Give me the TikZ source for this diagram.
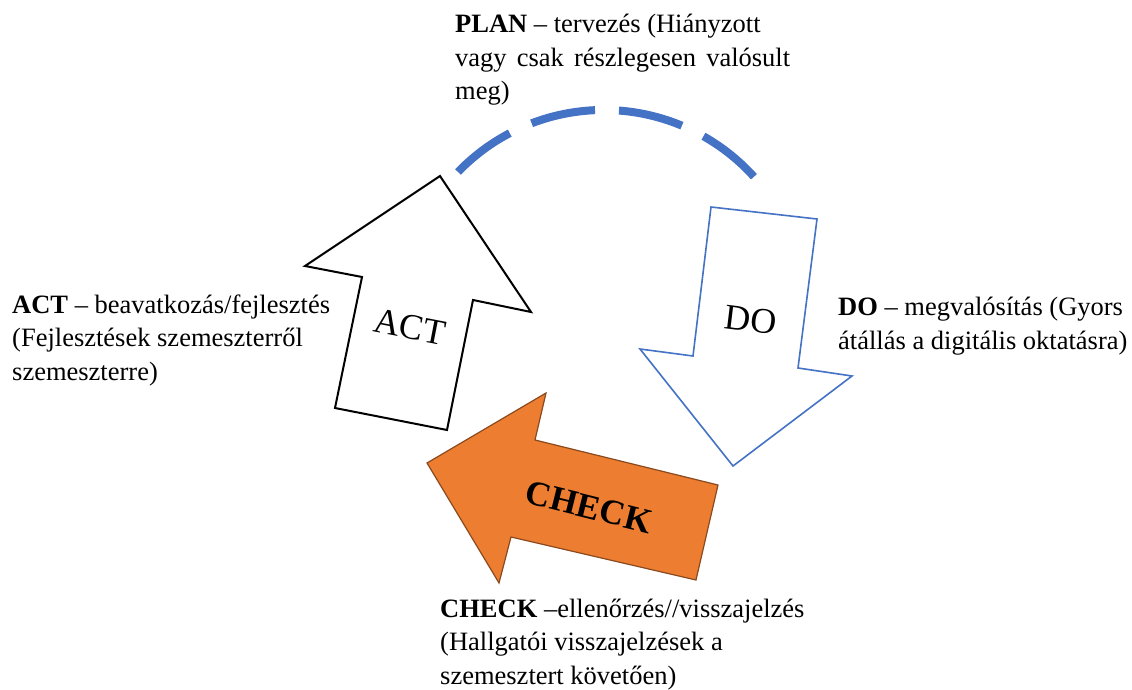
\documentclass[tikz,border=0pt]{standalone}
\usepackage{fontspec}
\setmainfont{Liberation Serif}
\definecolor{pdcablue}{HTML}{4472C4}
\definecolor{pdcaorange}{HTML}{ED7D31}
\definecolor{pdcabrown}{HTML}{8A4A1E}
\tikzset{
  lbl/.style={anchor=base west, inner sep=0pt, align=left,
    font=\fontsize{26.5}{33.5}\selectfont},
  inlbl/.style={inner sep=0pt, font=\fontsize{36}{40}\selectfont},
  actarrow/.style={draw=black, line width=2pt, fill=white, line join=miter},
  doarrow/.style={draw=pdcablue, line width=1.6pt, fill=white, line join=miter},
  checkarrow/.style={draw=pdcabrown, line width=1.2pt, fill=pdcaorange, line join=miter},
  planarc/.style={draw=pdcablue, line width=8pt, dash pattern=on 65pt off 24pt}
}
\begin{document}
\begin{tikzpicture}[x=1pt,y=-1pt]
\useasboundingbox (0,0) rectangle (1132,690);
% dashed PLAN arc
\coordinate (ps) at (458,172);
\draw[planarc] (ps) arc[start angle=-136.1, end angle=-41.6, radius=202.3] coordinate (pe);
% ACT arrow
\draw[actarrow] (440,176) -- (531,312) -- (473,300) -- (447,430) -- (335,408) -- (362,277) -- (305,266) -- cycle;
\node[inlbl, rotate=-11] (actin) at (410,327) {ACT};
% DO arrow
\draw[doarrow] (711,207) -- (817,219) -- (798,368) -- (852,376) -- (733,466) -- (640,349) -- (693,356) -- cycle;
\node[inlbl, rotate=-7] (doin) at (751,320) {DO};
% CHECK arrow
\draw[checkarrow] (427,463) -- (546,393) -- (535,440) -- (718,485) -- (696,580) -- (511,537) -- (499,583) -- cycle;
\node[inlbl, rotate=-14, font=\fontsize{35}{40}\selectfont\bfseries] (checkin) at (589,507) {CHECK};
% labels (anchored at the baseline of their last line)
\node[lbl] (plan) at (455,100) {\textbf{PLAN} – tervezés (Hiányzott\\\makebox[335pt][s]{vagy csak részlegesen valósult}\\meg)};
\node[lbl] (act) at (12,380) {\textbf{ACT} – beavatkozás/fejlesztés\\(Fejlesztések szemeszterről\\szemeszterre)};
\node[lbl] (do) at (838,349) {\textbf{DO} – megvalósítás (Gyors\\átállás a digitális oktatásra)};
\node[lbl] (check) at (440,684) {\textbf{CHECK} –ellenőrzés//visszajelzés\\(Hallgatói visszajelzések a\\szemesztert követően)};
\end{tikzpicture}
\end{document}
